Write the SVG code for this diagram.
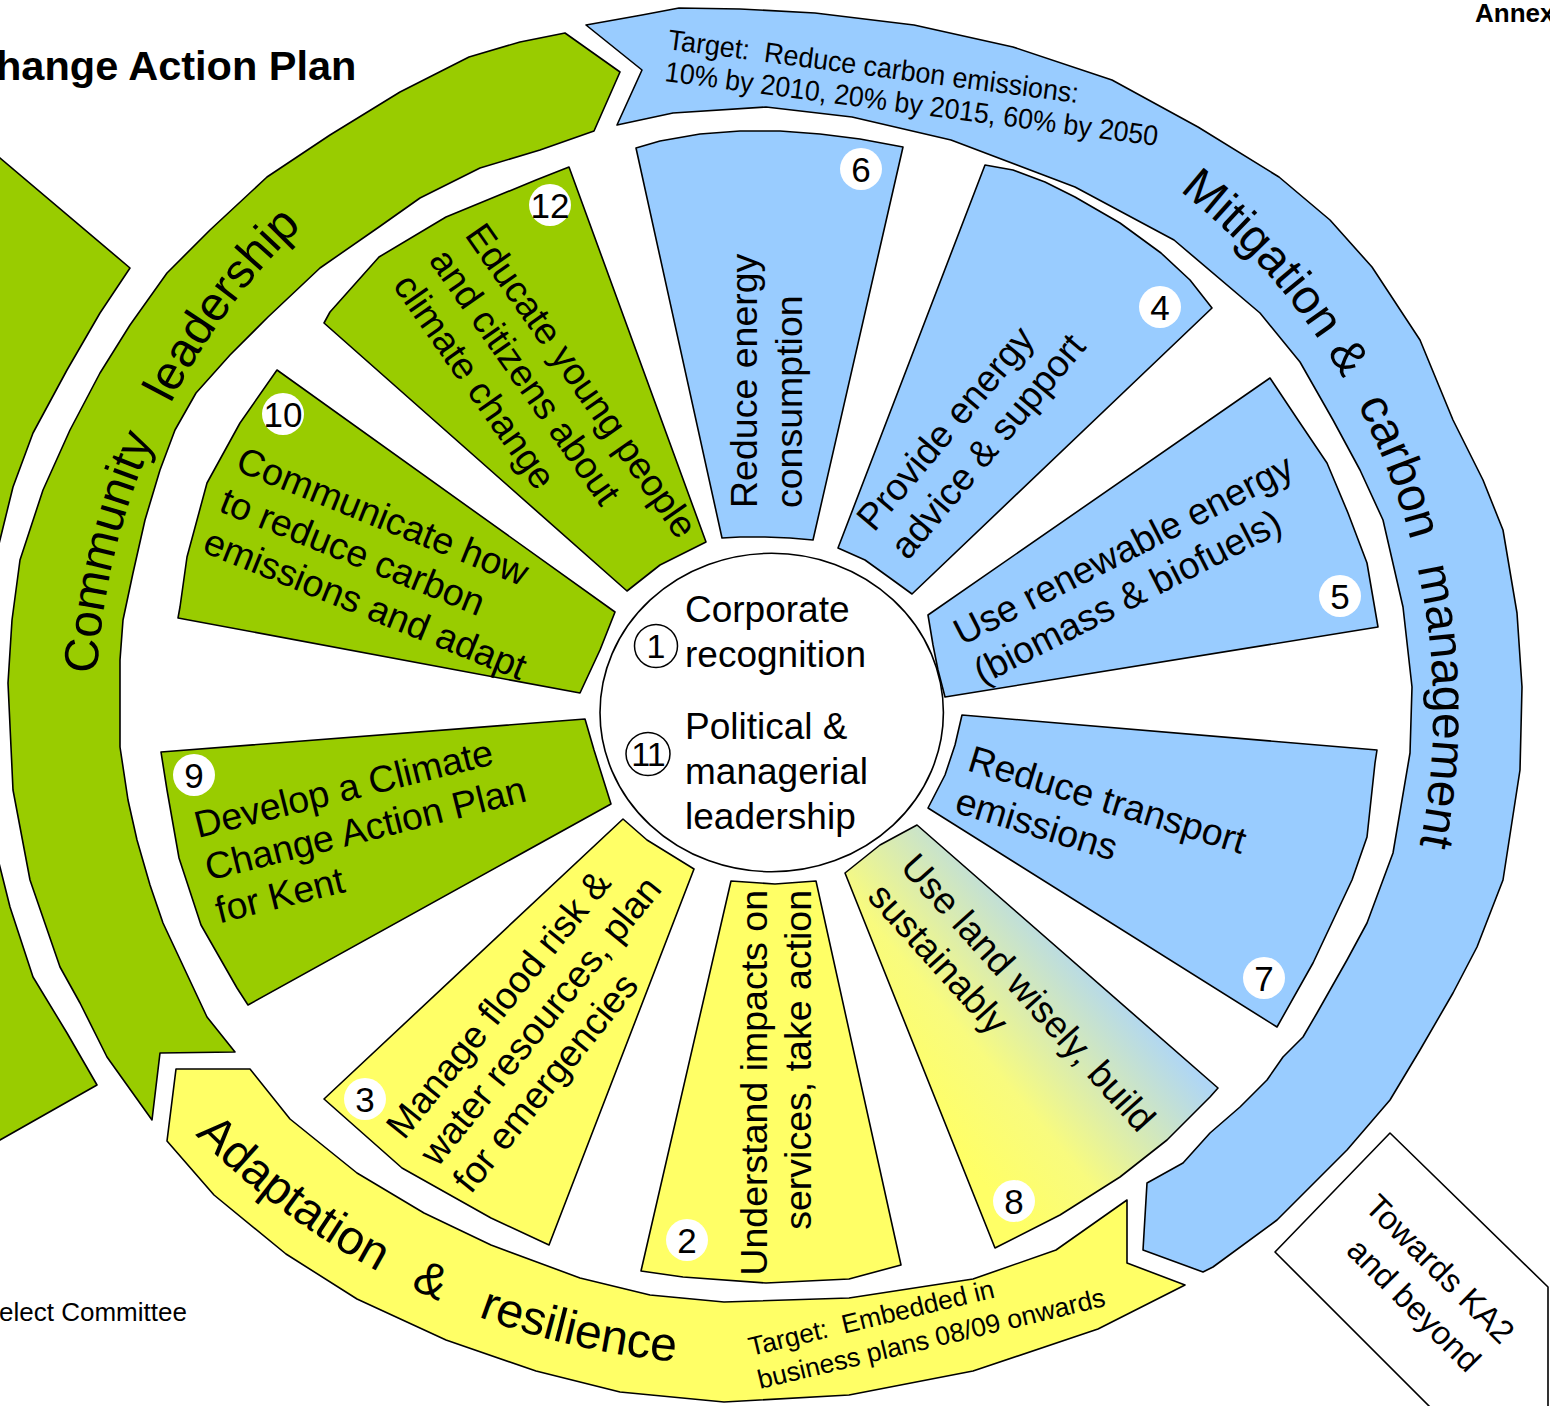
<svg xmlns="http://www.w3.org/2000/svg" width="1550" height="1406" viewBox="0 0 1550 1406">
<defs>
<style>
.s{stroke:#000;stroke-width:1.6;stroke-linejoin:round}
.g{fill:#99CC00}
.b{fill:#99CCFF}
.y{fill:#FFFF66}
.w{fill:#fff}
text{font-family:"Liberation Sans",Arial,sans-serif;fill:#000}
.pre{white-space:pre}
.wt{font-size:37.5px}
.bt{font-size:48px}
.nt{font-size:35px;text-anchor:middle}
.ct{font-size:37px}
</style>
<linearGradient id="g8" gradientUnits="userSpaceOnUse" x1="930" y1="1120" x2="1110" y2="970">
<stop offset="0" stop-color="#FFFF66"/>
<stop offset="0.35" stop-color="#F8FB7E"/>
<stop offset="1" stop-color="#AFD6F5"/>
</linearGradient>
<path id="pc" d="M 106.25 829.21 A 675 675 0 0 1 888.21 47.25"/>
<path id="pm" d="M 771 50 A 662 662 0 0 1 828.7 1371.5"/>
<path id="pa" d="M 73.37 975.5 A 779 779 0 0 0 883.27 1353.17"/>
</defs>

<g id="labels">
<text x="-4" y="80" style="font-size:41.5px;font-weight:bold">hange Action Plan</text>
<text x="1475" y="22" style="font-size:26px;font-weight:bold">Annex</text>
<text x="-1" y="1321" style="font-size:26px">elect Committee</text>
</g>

<g id="outer-left">
<polygon class="s g" points="-10,149.5 130,268 100,313 67,370 33,433 13,487 -3,552 -10,552"/>
<polygon class="s g" points="-10,855 -3,855 0,867 10,907 33,977 67,1033 97,1085 0,1140 -10,1146"/>
</g>

<g id="band-community">
<polygon class="s g" points="565,33 620,72 594,131 540,150 480,168 420,198 379,227 320,268 268,317 230,355 196,393 175,430 160,470 145,520 133,573 123,620 120,660 120,747 128,800 137,840 150,885 163,923 185,970 207,1017 235,1052 160,1053 152,1120 107,1057 80,1003 60,967 30,880 13,790 8,683 12,620 20,560 43,490 70,430 100,373 130,325 167,273 210,230 267,177 330,135 400,92 469,57 520,42"/>
<text class="bt"><textPath href="#pc" startOffset="156">Community</textPath></text>
<text class="bt"><textPath href="#pc" startOffset="438">leadership</textPath></text>
</g>

<g id="band-mitigation">
<polygon class="s b" points="586,25 642,15 679,8 740,9 815,13 914,25 1013,47 1112,80 1198,127 1279,177 1330,220 1372,267 1420,340 1453,420 1483,480 1503,530 1517,613 1522,687 1520,770 1503,880 1477,947 1453,993 1420,1050 1390,1100 1347,1150 1277,1220 1213,1267 1203,1272 1143,1250 1147,1183 1183,1163 1210,1133 1240,1107 1267,1080 1283,1057 1303,1037 1317,1013 1347,960 1367,923 1393,853 1410,753 1412,687 1403,607 1383,520 1360,470 1333,420 1300,362 1260,313 1174,240 1075,187 951,140 852,117 766,107 673,113 617,125 642,70"/>
<text class="pre" transform="translate(667,49) rotate(7.5)" style="font-size:28.5px" textLength="414" lengthAdjust="spacingAndGlyphs">Target:  Reduce carbon emissions:</text>
<text transform="translate(664,81) rotate(7.5)" style="font-size:28.5px" textLength="497" lengthAdjust="spacingAndGlyphs">10% by 2010, 20% by 2015, 60% by 2050</text>
<text class="bt"><textPath href="#pm" startOffset="440">Mitigation &amp;</textPath></text>
<text class="bt"><textPath href="#pm" startOffset="720">carbon</textPath></text>
<text class="bt"><textPath href="#pm" startOffset="894">management</textPath></text>
</g>

<g id="band-adaptation">
<polygon class="s y" points="176,1069 250,1069 290,1119 357,1173 424,1213 491,1245 580,1278 650,1295 724,1302 849,1298 973,1279 1056,1250 1127,1200 1127,1263 1185,1285 1098,1329 973,1371 849,1395 724,1402 620,1392 536,1371 446,1340 357,1299 286,1254 214,1195 167,1141"/>
<text class="bt"><textPath href="#pa" startOffset="201">Adaptation</textPath></text>
<text class="bt"><textPath href="#pa" startOffset="466">&amp;</textPath></text>
<text class="bt"><textPath href="#pa" startOffset="540">resilience</textPath></text>
<text class="pre" transform="translate(751,1356) rotate(-13.5)" style="font-size:26.5px">Target:  Embedded in</text>
<text transform="translate(760,1389) rotate(-13.5)" style="font-size:26.5px">business plans 08/09 onwards</text>
</g>

<g id="towards">
<polygon class="s w" points="1275,1252 1390,1133 1548,1287 1548,1430 1453,1430"/>
<text transform="translate(1432,1277) rotate(45)" style="font-size:33px;text-anchor:middle">Towards KA2</text>
<text transform="translate(1406,1313) rotate(45)" style="font-size:33px;text-anchor:middle">and beyond</text>
</g>

<g id="node-6">
<polygon class="s b" points="636,148 660,141 700,134 740,131 780,131 820,134 860,139 903,147 813,540 790,538 765,537 740,537 722,538"/>
<text class="wt" transform="translate(757,508) rotate(-90)"><tspan x="0" y="0">Reduce energy</tspan><tspan x="0" y="45">consumption</tspan></text>
<circle class="w" cx="861" cy="169" r="21"/><text class="nt" x="861" y="181.5">6</text>
</g>

<g id="node-4">
<polygon class="s b" points="985,165 1013,170 1045,182 1075,197 1120,223 1161,253 1190,280 1212,308 912,594 890,578 865,560 838,548"/>
<text class="wt" transform="translate(874,533) rotate(-50)"><tspan x="0" y="0">Provide energy</tspan><tspan x="0" y="44">advice &amp; support</tspan></text>
<circle class="w" cx="1160" cy="307" r="21"/><text class="nt" x="1160" y="319.5">4</text>
</g>

<g id="node-5">
<polygon class="s b" points="1270,378 1298,420 1327,463 1348,513 1367,563 1378,627 945,697 938,670 933,645 928,615"/>
<text class="wt" transform="translate(962,646) rotate(-27)"><tspan x="0" y="0">Use renewable energy</tspan><tspan x="0" y="44">(biomass &amp; biofuels)</tspan></text>
<circle class="w" cx="1340" cy="596" r="21"/><text class="nt" x="1340" y="608.5">5</text>
</g>

<g id="node-7">
<polygon class="s b" points="962,715 1377,750 1375,763 1367,837 1352,880 1313,963 1277,1027 928,808 945,775 955,745"/>
<text class="wt" transform="translate(966,770) rotate(17)"><tspan x="0" y="0">Reduce transport</tspan><tspan x="0" y="44">emissions</tspan></text>
<circle class="w" cx="1264" cy="978" r="21"/><text class="nt" x="1264" y="990.5">7</text>
</g>

<g id="node-8">
<polygon class="s" fill="url(#g8)" points="917,825 1218,1088 1210,1097 1167,1140 1120,1177 1060,1215 995,1248 845,873 880,845"/>
<text class="wt" transform="translate(899,868) rotate(48)"><tspan x="0" y="0">Use land wisely, build</tspan><tspan x="0" y="44">sustainably</tspan></text>
<circle class="w" cx="1014" cy="1201" r="21"/><text class="nt" x="1014" y="1213.5">8</text>
</g>

<g id="node-2">
<polygon class="s y" points="731,881 775,884 816,881 901,1265 849,1279 766,1283 683,1277 641,1271"/>
<text class="wt" transform="translate(767,890) rotate(-90)" style="text-anchor:end"><tspan x="0" y="0">Understand impacts on</tspan><tspan x="0" y="44">services, take action</tspan></text>
<circle class="w" cx="687" cy="1240" r="21"/><text class="nt" x="687" y="1252.5">2</text>
</g>

<g id="node-3">
<polygon class="s y" points="623,819 647,840 694,869 549,1245 491,1218 402,1168 324,1099"/>
<text class="wt" transform="translate(404,1141) rotate(-51)"><tspan x="0" y="0">Manage flood risk &amp;</tspan><tspan x="0" y="43">water resources, plan</tspan><tspan x="0" y="86">for emergencies</tspan></text>
<circle class="w" cx="365" cy="1099" r="21"/><text class="nt" x="365" y="1111.5">3</text>
</g>

<g id="node-9">
<polygon class="s g" points="161,752 585,719 594,750 611,804 248,1005 237,988 201,925 179,858 167,790"/>
<text class="wt" transform="translate(198,838) rotate(-14)"><tspan x="0" y="0">Develop a Climate</tspan><tspan x="0" y="44">Change Action Plan</tspan><tspan x="0" y="88">for Kent</tspan></text>
<circle class="w" cx="194" cy="775" r="21"/><text class="nt" x="194" y="787.5">9</text>
</g>

<g id="node-10">
<polygon class="s g" points="277,370 615,612 600,650 580,693 178,618 180,607 187,557 207,483 240,423"/>
<text class="wt" transform="translate(234,470) rotate(22)"><tspan x="0" y="0">Communicate how</tspan><tspan x="0" y="44">to reduce carbon</tspan><tspan x="0" y="88">emissions and adapt</tspan></text>
<circle class="w" cx="283" cy="414" r="21"/><text class="nt" x="283" y="426.5">10</text>
</g>

<g id="node-12">
<polygon class="s g" points="569,167 706,542 660,565 627,591 324,323 330,312 379,257 446,217 536,180"/>
<text class="wt" transform="translate(464,235) rotate(55)"><tspan x="0" y="0">Educate young people</tspan><tspan x="0" y="44">and citizens about</tspan><tspan x="0" y="88">climate change</tspan></text>
<circle class="w" cx="550" cy="205" r="21"/><text class="nt" x="550" y="217.5">12</text>
</g>

<g id="node-centre">
<ellipse class="s w" cx="771.7" cy="712.5" rx="171.7" ry="159.2"/>
<ellipse cx="656" cy="646" rx="21.5" ry="21.5" fill="none" stroke="#000" stroke-width="1.5"/>
<text x="656" y="658" style="font-size:34px;text-anchor:middle">1</text>
<ellipse cx="648" cy="754" rx="22" ry="21.5" fill="none" stroke="#000" stroke-width="1.5"/>
<text x="648" y="766" style="font-size:34px;text-anchor:middle;letter-spacing:-1px">11</text>
<text class="ct" x="685" y="622">Corporate</text>
<text class="ct" x="685" y="667">recognition</text>
<text class="ct" x="685" y="739">Political &amp;</text>
<text class="ct" x="685" y="784">managerial</text>
<text class="ct" x="685" y="829">leadership</text>
</g>

<g id="connectors"/>
</svg>
